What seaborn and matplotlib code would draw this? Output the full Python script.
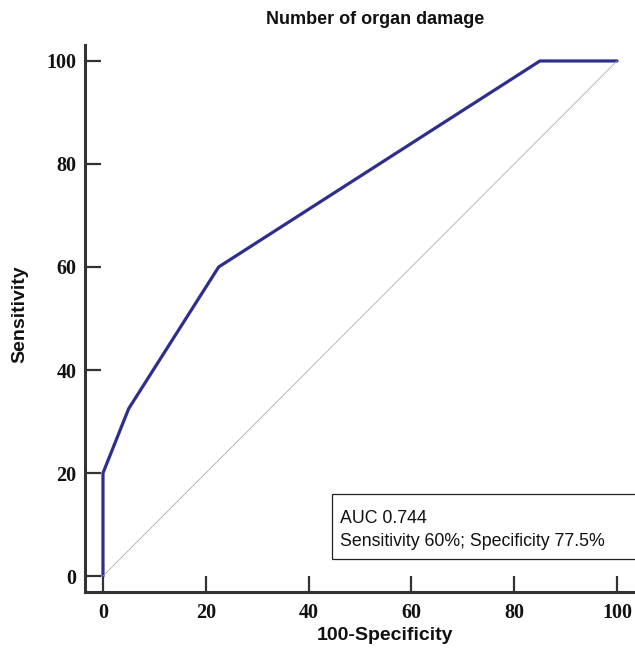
import matplotlib
matplotlib.use("Agg")
import matplotlib.pyplot as plt
import seaborn as sns
import pandas as pd
from matplotlib.patches import Rectangle

# Data
fpr = [0, 0, 5, 22.5, 85, 100]          # 100-Specificity
tpr = [0, 20, 32.5, 60, 100, 100]        # Sensitivity
diag = [0, 100]
ticks = [0, 20, 40, 60, 80, 100]
title = "Number of organ damage"
xlabel = "100-Specificity"
ylabel = "Sensitivity"
auc_text = "AUC 0.744\nSensitivity 60%; Specificity 77.5%"

sns.set_style("ticks")
plt.rcParams['font.family'] = ['Liberation Sans', 'DejaVu Sans']

fig = plt.figure(figsize=(6.35, 6.5), dpi=100)
ax = fig.add_axes([85/635, 58/650, 1 - 85/635, (592-45)/650])

df = pd.DataFrame({"x": fpr, "y": tpr})
sns.lineplot(data=df, x="x", y="y", ax=ax, color="#2e2e8c", linewidth=2.3,
             sort=False, estimator=None)
sns.lineplot(x=diag, y=diag, ax=ax, color="#a8a8a8", linewidth=0.55)

ax.set_xlim(-3.5, 103.5)
ax.set_ylim(-3.1, 103.1)
ax.set_xticks(ticks)
ax.set_yticks(ticks)
ax.set_xticklabels([str(t) for t in ticks], family="Liberation Serif",
                   fontweight="bold", fontsize=14.5, color="#111111")
ax.set_yticklabels([str(t) for t in ticks], family="Liberation Serif",
                   fontweight="bold", fontsize=14.5, color="#111111")
ax.tick_params(direction="in", length=11.5, width=1.6, color="#333333")
ax.tick_params(axis="x", pad=8)
ax.tick_params(axis="y", pad=6)
for s in ["top", "right"]:
    ax.spines[s].set_visible(False)
for s in ["left", "bottom"]:
    ax.spines[s].set_linewidth(2.2)
    ax.spines[s].set_color("#333333")

ax.set_xlabel("")
ax.set_ylabel("")
fig.text(385/635, 1 - 636/650, xlabel, ha="center", va="center",
         fontweight="bold", fontsize=14, color="#111111")
fig.text(20/635, 1 - 314/650, ylabel, ha="center", va="center",
         rotation=90, fontweight="bold", fontsize=14, color="#111111")
fig.text(375/635, 1 - 20/650, title, ha="center", va="center",
         fontweight="bold", fontsize=13, color="#111111")

rect = Rectangle((44.6, 3.3), 70, 12.6, transform=ax.transData,
                 facecolor="white", edgecolor="#222222", linewidth=0.9,
                 clip_on=False, zorder=5)
ax.add_patch(rect)
ax.text(46.2, 8.9, auc_text, ha="left", va="center", fontsize=12.8,
        linespacing=1.5, zorder=6, color="#111111")

fig.savefig("out.png", dpi=100)
